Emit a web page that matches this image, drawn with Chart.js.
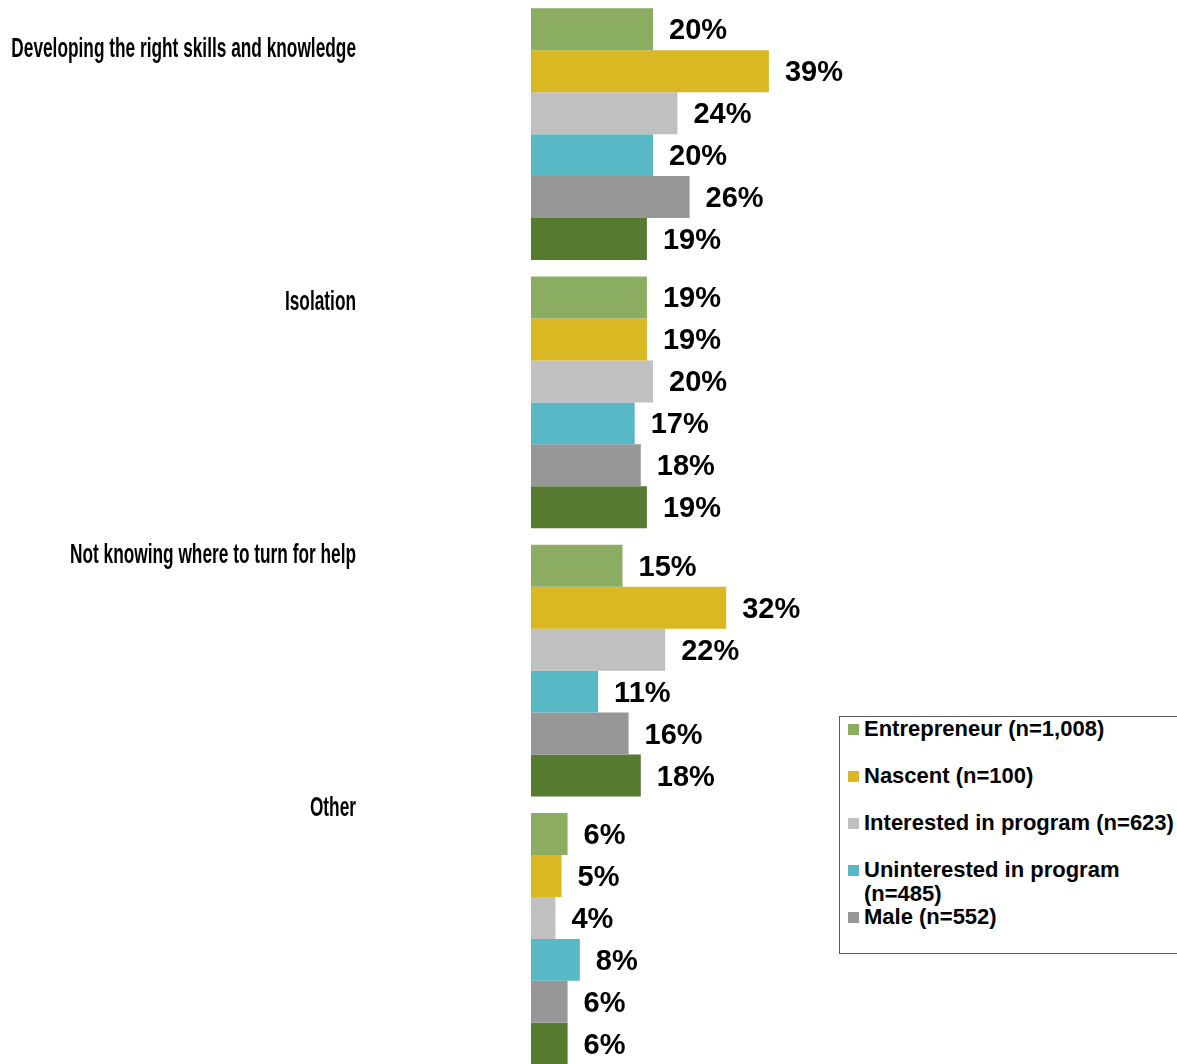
<!DOCTYPE html>
<html>
<head>
<meta charset="utf-8">
<script src="https://cdn.jsdelivr.net/npm/chart.js@4/dist/chart.umd.min.js"></script>
<style>
  html, body { margin: 0; padding: 0; background: #fff; overflow: hidden; }
  #wrap { position: relative; width: 1177px; height: 1064px; overflow: hidden; }
  #chartBox { position: absolute; left: 0; top: 0; width: 1177px; height: 1073px; }
  #legend {
    position: absolute; left: 839px; top: 716px; width: 345px; height: 236px;
    border: 1px solid #595959; overflow: hidden; background: #fff;
    font: bold 22px "Liberation Sans", Arial, sans-serif; color: #000;
  }
  .item { position: absolute; left: 7px; width: 340px; line-height: 24px; }
  .item span.sw { position: absolute; left: 1px; top: 7px; width: 11px; height: 11px; }
  .item span.tx { display: block; margin-left: 17px; width: 322px; }
</style>
</head>
<body>
<div id="wrap">
  <div id="chartBox"><canvas id="myChart"></canvas></div>
  <div id="legend"></div>
</div>
<script>
'use strict';
// data
var categories = ['Developing the right skills and knowledge', 'Isolation', 'Not knowing where to turn for help', 'Other'];
var seriesNames = ['Entrepreneur (n=1,008)', 'Nascent (n=100)', 'Interested in program (n=623)', 'Uninterested in program (n=485)', 'Male (n=552)', 'Female'];
var seriesColors = ['#8BAD62', '#DAB824', '#C0C0C0', '#59B8C5', '#979797', '#557A30'];
var entrepreneur = [20, 19, 15, 6];
var nascent = [39, 19, 32, 5];
var interested = [24, 20, 22, 4];
var uninterested = [20, 17, 11, 8];
var male = [26, 18, 16, 6];
var female = [19, 19, 18, 6];
var allSeries = [entrepreneur, nascent, interested, uninterested, male, female];
var legendShown = 5;

var datasets = [];
for (var i = 0; i < allSeries.length; i++) {
  datasets.push({
    label: seriesNames[i],
    data: allSeries[i],
    backgroundColor: seriesColors[i],
    borderWidth: 0,
    barPercentage: 1,
    categoryPercentage: 0.939
  });
}

// value labels to the right of each bar
var valueLabels = {
  id: 'valueLabels',
  afterDatasetsDraw: function (chart) {
    var ctx = chart.ctx;
    ctx.save();
    ctx.font = 'bold 29px "Liberation Sans", Arial, sans-serif';
    ctx.fillStyle = '#000';
    ctx.textAlign = 'left';
    ctx.textBaseline = 'middle';
    chart.data.datasets.forEach(function (ds, di) {
      chart.getDatasetMeta(di).data.forEach(function (bar, j) {
        ctx.fillText(ds.data[j] + '%', bar.x + 16, bar.y + 2);
      });
    });
    ctx.restore();
  }
};

// category names, narrow type, right aligned left of the bars
var categoryLabels = {
  id: 'categoryLabels',
  afterDraw: function (chart) {
    var scale = chart.scales.catLabels;
    var ctx = chart.ctx;
    ctx.save();
    ctx.font = 'bold 27px "Liberation Sans", Arial, sans-serif';
    ctx.fillStyle = '#000';
    ctx.textAlign = 'right';
    ctx.textBaseline = 'middle';
    categories.forEach(function (c, k) {
      ctx.save();
      ctx.translate(scale.right - 175, scale.getPixelForValue(k));
      ctx.scale(0.64, 1);
      ctx.fillText(c, 0, 0);
      ctx.restore();
    });
    ctx.restore();
  }
};

var ctx = document.getElementById('myChart').getContext('2d');
var chart = new Chart(ctx, {
  type: 'bar',
  data: { labels: categories, datasets: datasets },
  options: {
    indexAxis: 'y',
    responsive: true,
    maintainAspectRatio: false,
    animation: false,
    layout: { padding: { top: 0, bottom: 0, right: 36, left: 0 } },
    plugins: { legend: { display: false }, tooltip: { enabled: false } },
    scales: {
      x: { min: 0, max: 100, display: false },
      y: { display: false },
      catLabels: {
        type: 'linear',
        position: 'left',
        reverse: true,
        offset: false,
        min: -0.198,
        max: 4.048,
        grid: { display: false, drawTicks: false },
        border: { display: false },
        ticks: { display: false },
        afterFit: function (scale) {
          scale.width = 531;
          scale.paddingTop = 0;
          scale.paddingBottom = 0;
        }
      }
    }
  },
  plugins: [valueLabels, categoryLabels]
});

// legend box
var legendElem = document.getElementById('legend');
for (var k = 0; k < legendShown; k++) {
  var item = document.createElement('div');
  item.className = 'item';
  item.style.top = (0 + k * 47) + 'px';
  item.innerHTML = '<span class="sw" style="background:' + seriesColors[k] + '"></span><span class="tx">' + seriesNames[k] + '</span>';
  legendElem.appendChild(item);
}
</script>
</body>
</html>
